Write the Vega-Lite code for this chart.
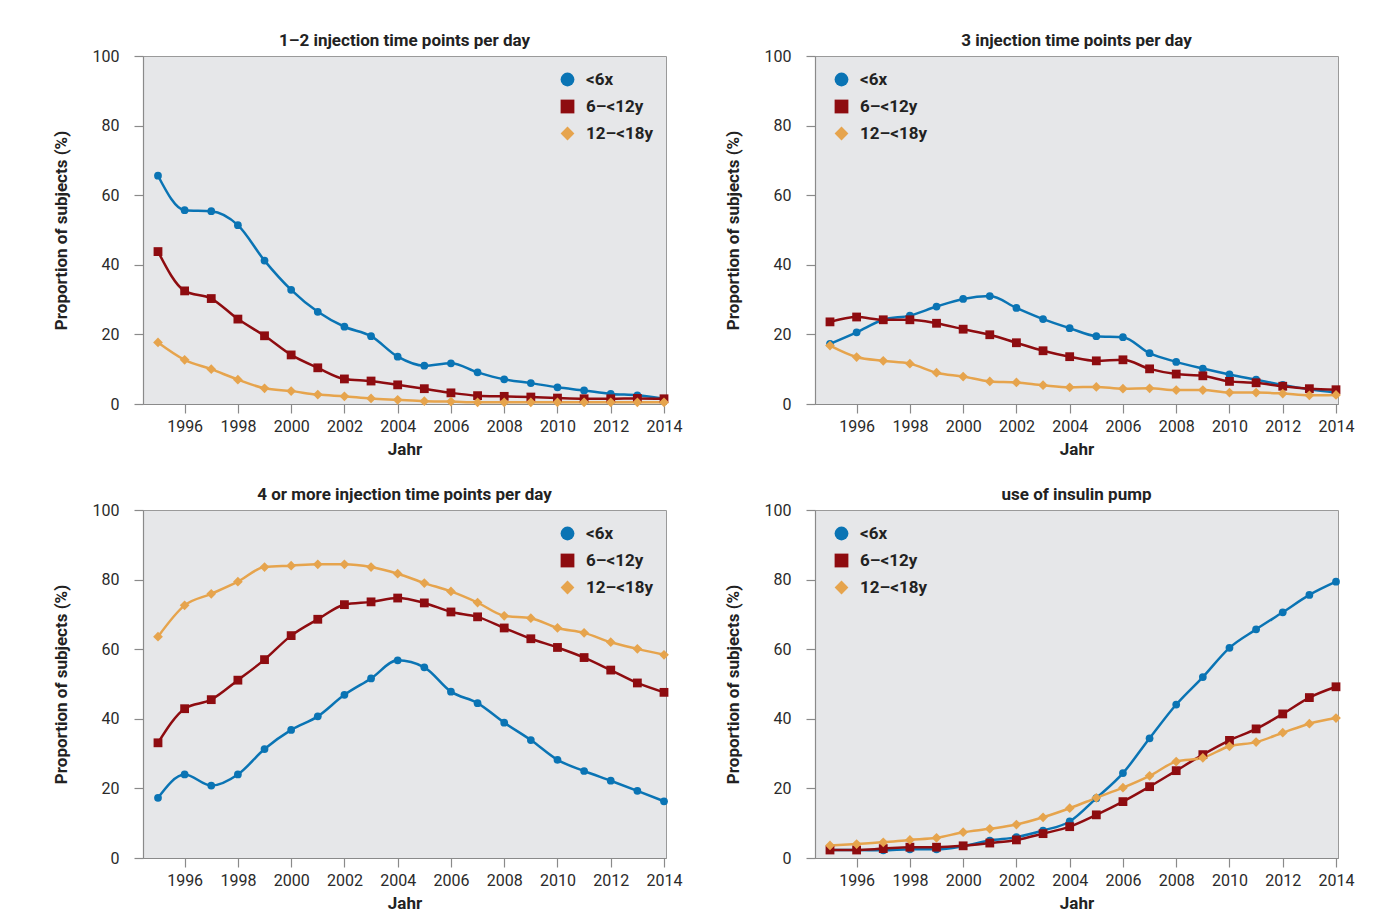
{
  "$schema": "https://vega.github.io/schema/vega-lite/v6.json",
  "background": "white",
  "padding": {"left": 51, "top": 31, "right": 10, "bottom": 5},
  "datasets": {
    "d": [
      {"p":"a","g":"<6x","y":1995,"v":65.6},{"p":"a","g":"<6x","y":1996,"v":55.7},{"p":"a","g":"<6x","y":1997,"v":55.4},{"p":"a","g":"<6x","y":1998,"v":51.4},{"p":"a","g":"<6x","y":1999,"v":41.2},{"p":"a","g":"<6x","y":2000,"v":32.8},{"p":"a","g":"<6x","y":2001,"v":26.5},{"p":"a","g":"<6x","y":2002,"v":22.2},{"p":"a","g":"<6x","y":2003,"v":19.5},{"p":"a","g":"<6x","y":2004,"v":13.6},{"p":"a","g":"<6x","y":2005,"v":11.0},{"p":"a","g":"<6x","y":2006,"v":11.7},{"p":"a","g":"<6x","y":2007,"v":9.1},{"p":"a","g":"<6x","y":2008,"v":7.1},{"p":"a","g":"<6x","y":2009,"v":6.0},{"p":"a","g":"<6x","y":2010,"v":4.8},{"p":"a","g":"<6x","y":2011,"v":3.9},{"p":"a","g":"<6x","y":2012,"v":2.9},{"p":"a","g":"<6x","y":2013,"v":2.5},{"p":"a","g":"<6x","y":2014,"v":1.5},
      {"p":"a","g":"6–<12y","y":1995,"v":43.8},{"p":"a","g":"6–<12y","y":1996,"v":32.5},{"p":"a","g":"6–<12y","y":1997,"v":30.3},{"p":"a","g":"6–<12y","y":1998,"v":24.4},{"p":"a","g":"6–<12y","y":1999,"v":19.6},{"p":"a","g":"6–<12y","y":2000,"v":14.1},{"p":"a","g":"6–<12y","y":2001,"v":10.4},{"p":"a","g":"6–<12y","y":2002,"v":7.2},{"p":"a","g":"6–<12y","y":2003,"v":6.6},{"p":"a","g":"6–<12y","y":2004,"v":5.5},{"p":"a","g":"6–<12y","y":2005,"v":4.4},{"p":"a","g":"6–<12y","y":2006,"v":3.2},{"p":"a","g":"6–<12y","y":2007,"v":2.4},{"p":"a","g":"6–<12y","y":2008,"v":2.2},{"p":"a","g":"6–<12y","y":2009,"v":2.0},{"p":"a","g":"6–<12y","y":2010,"v":1.7},{"p":"a","g":"6–<12y","y":2011,"v":1.5},{"p":"a","g":"6–<12y","y":2012,"v":1.5},{"p":"a","g":"6–<12y","y":2013,"v":1.6},{"p":"a","g":"6–<12y","y":2014,"v":1.5},
      {"p":"a","g":"12–<18y","y":1995,"v":17.7},{"p":"a","g":"12–<18y","y":1996,"v":12.7},{"p":"a","g":"12–<18y","y":1997,"v":10.0},{"p":"a","g":"12–<18y","y":1998,"v":7.0},{"p":"a","g":"12–<18y","y":1999,"v":4.5},{"p":"a","g":"12–<18y","y":2000,"v":3.7},{"p":"a","g":"12–<18y","y":2001,"v":2.7},{"p":"a","g":"12–<18y","y":2002,"v":2.2},{"p":"a","g":"12–<18y","y":2003,"v":1.6},{"p":"a","g":"12–<18y","y":2004,"v":1.2},{"p":"a","g":"12–<18y","y":2005,"v":0.8},{"p":"a","g":"12–<18y","y":2006,"v":0.7},{"p":"a","g":"12–<18y","y":2007,"v":0.5},{"p":"a","g":"12–<18y","y":2008,"v":0.5},{"p":"a","g":"12–<18y","y":2009,"v":0.5},{"p":"a","g":"12–<18y","y":2010,"v":0.5},{"p":"a","g":"12–<18y","y":2011,"v":0.5},{"p":"a","g":"12–<18y","y":2012,"v":0.5},{"p":"a","g":"12–<18y","y":2013,"v":0.5},{"p":"a","g":"12–<18y","y":2014,"v":0.5},
      {"p":"b","g":"<6x","y":1995,"v":17.3},{"p":"b","g":"<6x","y":1996,"v":20.6},{"p":"b","g":"<6x","y":1997,"v":24.2},{"p":"b","g":"<6x","y":1998,"v":25.4},{"p":"b","g":"<6x","y":1999,"v":28.0},{"p":"b","g":"<6x","y":2000,"v":30.2},{"p":"b","g":"<6x","y":2001,"v":31.0},{"p":"b","g":"<6x","y":2002,"v":27.6},{"p":"b","g":"<6x","y":2003,"v":24.4},{"p":"b","g":"<6x","y":2004,"v":21.8},{"p":"b","g":"<6x","y":2005,"v":19.5},{"p":"b","g":"<6x","y":2006,"v":19.2},{"p":"b","g":"<6x","y":2007,"v":14.6},{"p":"b","g":"<6x","y":2008,"v":12.1},{"p":"b","g":"<6x","y":2009,"v":10.2},{"p":"b","g":"<6x","y":2010,"v":8.5},{"p":"b","g":"<6x","y":2011,"v":7.0},{"p":"b","g":"<6x","y":2012,"v":5.5},{"p":"b","g":"<6x","y":2013,"v":4.2},{"p":"b","g":"<6x","y":2014,"v":3.3},
      {"p":"b","g":"6–<12y","y":1995,"v":23.6},{"p":"b","g":"6–<12y","y":1996,"v":25.0},{"p":"b","g":"6–<12y","y":1997,"v":24.2},{"p":"b","g":"6–<12y","y":1998,"v":24.2},{"p":"b","g":"6–<12y","y":1999,"v":23.2},{"p":"b","g":"6–<12y","y":2000,"v":21.5},{"p":"b","g":"6–<12y","y":2001,"v":19.9},{"p":"b","g":"6–<12y","y":2002,"v":17.6},{"p":"b","g":"6–<12y","y":2003,"v":15.3},{"p":"b","g":"6–<12y","y":2004,"v":13.6},{"p":"b","g":"6–<12y","y":2005,"v":12.4},{"p":"b","g":"6–<12y","y":2006,"v":12.7},{"p":"b","g":"6–<12y","y":2007,"v":10.1},{"p":"b","g":"6–<12y","y":2008,"v":8.6},{"p":"b","g":"6–<12y","y":2009,"v":8.1},{"p":"b","g":"6–<12y","y":2010,"v":6.5},{"p":"b","g":"6–<12y","y":2011,"v":6.1},{"p":"b","g":"6–<12y","y":2012,"v":5.1},{"p":"b","g":"6–<12y","y":2013,"v":4.4},{"p":"b","g":"6–<12y","y":2014,"v":4.1},
      {"p":"b","g":"12–<18y","y":1995,"v":16.8},{"p":"b","g":"12–<18y","y":1996,"v":13.5},{"p":"b","g":"12–<18y","y":1997,"v":12.4},{"p":"b","g":"12–<18y","y":1998,"v":11.6},{"p":"b","g":"12–<18y","y":1999,"v":9.0},{"p":"b","g":"12–<18y","y":2000,"v":7.9},{"p":"b","g":"12–<18y","y":2001,"v":6.5},{"p":"b","g":"12–<18y","y":2002,"v":6.2},{"p":"b","g":"12–<18y","y":2003,"v":5.4},{"p":"b","g":"12–<18y","y":2004,"v":4.8},{"p":"b","g":"12–<18y","y":2005,"v":4.9},{"p":"b","g":"12–<18y","y":2006,"v":4.4},{"p":"b","g":"12–<18y","y":2007,"v":4.5},{"p":"b","g":"12–<18y","y":2008,"v":4.0},{"p":"b","g":"12–<18y","y":2009,"v":4.0},{"p":"b","g":"12–<18y","y":2010,"v":3.3},{"p":"b","g":"12–<18y","y":2011,"v":3.3},{"p":"b","g":"12–<18y","y":2012,"v":3.0},{"p":"b","g":"12–<18y","y":2013,"v":2.5},{"p":"b","g":"12–<18y","y":2014,"v":2.6},
      {"p":"c","g":"<6x","y":1995,"v":17.3},{"p":"c","g":"<6x","y":1996,"v":24.0},{"p":"c","g":"<6x","y":1997,"v":20.8},{"p":"c","g":"<6x","y":1998,"v":24.0},{"p":"c","g":"<6x","y":1999,"v":31.3},{"p":"c","g":"<6x","y":2000,"v":36.8},{"p":"c","g":"<6x","y":2001,"v":40.7},{"p":"c","g":"<6x","y":2002,"v":46.9},{"p":"c","g":"<6x","y":2003,"v":51.6},{"p":"c","g":"<6x","y":2004,"v":56.8},{"p":"c","g":"<6x","y":2005,"v":54.8},{"p":"c","g":"<6x","y":2006,"v":47.8},{"p":"c","g":"<6x","y":2007,"v":44.5},{"p":"c","g":"<6x","y":2008,"v":38.9},{"p":"c","g":"<6x","y":2009,"v":33.9},{"p":"c","g":"<6x","y":2010,"v":28.2},{"p":"c","g":"<6x","y":2011,"v":25.0},{"p":"c","g":"<6x","y":2012,"v":22.2},{"p":"c","g":"<6x","y":2013,"v":19.3},{"p":"c","g":"<6x","y":2014,"v":16.3},
      {"p":"c","g":"6–<12y","y":1995,"v":33.1},{"p":"c","g":"6–<12y","y":1996,"v":42.9},{"p":"c","g":"6–<12y","y":1997,"v":45.5},{"p":"c","g":"6–<12y","y":1998,"v":51.1},{"p":"c","g":"6–<12y","y":1999,"v":57.0},{"p":"c","g":"6–<12y","y":2000,"v":63.9},{"p":"c","g":"6–<12y","y":2001,"v":68.6},{"p":"c","g":"6–<12y","y":2002,"v":72.8},{"p":"c","g":"6–<12y","y":2003,"v":73.6},{"p":"c","g":"6–<12y","y":2004,"v":74.7},{"p":"c","g":"6–<12y","y":2005,"v":73.3},{"p":"c","g":"6–<12y","y":2006,"v":70.7},{"p":"c","g":"6–<12y","y":2007,"v":69.3},{"p":"c","g":"6–<12y","y":2008,"v":66.1},{"p":"c","g":"6–<12y","y":2009,"v":63.0},{"p":"c","g":"6–<12y","y":2010,"v":60.5},{"p":"c","g":"6–<12y","y":2011,"v":57.6},{"p":"c","g":"6–<12y","y":2012,"v":54.0},{"p":"c","g":"6–<12y","y":2013,"v":50.3},{"p":"c","g":"6–<12y","y":2014,"v":47.6},
      {"p":"c","g":"12–<18y","y":1995,"v":63.6},{"p":"c","g":"12–<18y","y":1996,"v":72.6},{"p":"c","g":"12–<18y","y":1997,"v":75.9},{"p":"c","g":"12–<18y","y":1998,"v":79.4},{"p":"c","g":"12–<18y","y":1999,"v":83.6},{"p":"c","g":"12–<18y","y":2000,"v":84.0},{"p":"c","g":"12–<18y","y":2001,"v":84.4},{"p":"c","g":"12–<18y","y":2002,"v":84.4},{"p":"c","g":"12–<18y","y":2003,"v":83.6},{"p":"c","g":"12–<18y","y":2004,"v":81.7},{"p":"c","g":"12–<18y","y":2005,"v":79.0},{"p":"c","g":"12–<18y","y":2006,"v":76.6},{"p":"c","g":"12–<18y","y":2007,"v":73.4},{"p":"c","g":"12–<18y","y":2008,"v":69.6},{"p":"c","g":"12–<18y","y":2009,"v":68.9},{"p":"c","g":"12–<18y","y":2010,"v":66.1},{"p":"c","g":"12–<18y","y":2011,"v":64.7},{"p":"c","g":"12–<18y","y":2012,"v":62.0},{"p":"c","g":"12–<18y","y":2013,"v":60.1},{"p":"c","g":"12–<18y","y":2014,"v":58.4},
      {"p":"d","g":"<6x","y":1995,"v":2.3},{"p":"d","g":"<6x","y":1996,"v":2.3},{"p":"d","g":"<6x","y":1997,"v":2.2},{"p":"d","g":"<6x","y":1998,"v":2.5},{"p":"d","g":"<6x","y":1999,"v":2.5},{"p":"d","g":"<6x","y":2000,"v":3.4},{"p":"d","g":"<6x","y":2001,"v":5.0},{"p":"d","g":"<6x","y":2002,"v":6.0},{"p":"d","g":"<6x","y":2003,"v":7.9},{"p":"d","g":"<6x","y":2004,"v":10.5},{"p":"d","g":"<6x","y":2005,"v":17.2},{"p":"d","g":"<6x","y":2006,"v":24.4},{"p":"d","g":"<6x","y":2007,"v":34.4},{"p":"d","g":"<6x","y":2008,"v":44.1},{"p":"d","g":"<6x","y":2009,"v":52.0},{"p":"d","g":"<6x","y":2010,"v":60.4},{"p":"d","g":"<6x","y":2011,"v":65.7},{"p":"d","g":"<6x","y":2012,"v":70.6},{"p":"d","g":"<6x","y":2013,"v":75.6},{"p":"d","g":"<6x","y":2014,"v":79.4},
      {"p":"d","g":"6–<12y","y":1995,"v":2.3},{"p":"d","g":"6–<12y","y":1996,"v":2.3},{"p":"d","g":"6–<12y","y":1997,"v":2.7},{"p":"d","g":"6–<12y","y":1998,"v":3.1},{"p":"d","g":"6–<12y","y":1999,"v":3.1},{"p":"d","g":"6–<12y","y":2000,"v":3.5},{"p":"d","g":"6–<12y","y":2001,"v":4.3},{"p":"d","g":"6–<12y","y":2002,"v":5.2},{"p":"d","g":"6–<12y","y":2003,"v":7.0},{"p":"d","g":"6–<12y","y":2004,"v":9.0},{"p":"d","g":"6–<12y","y":2005,"v":12.4},{"p":"d","g":"6–<12y","y":2006,"v":16.2},{"p":"d","g":"6–<12y","y":2007,"v":20.5},{"p":"d","g":"6–<12y","y":2008,"v":25.1},{"p":"d","g":"6–<12y","y":2009,"v":29.7},{"p":"d","g":"6–<12y","y":2010,"v":33.8},{"p":"d","g":"6–<12y","y":2011,"v":37.1},{"p":"d","g":"6–<12y","y":2012,"v":41.4},{"p":"d","g":"6–<12y","y":2013,"v":46.1},{"p":"d","g":"6–<12y","y":2014,"v":49.2},
      {"p":"d","g":"12–<18y","y":1995,"v":3.6},{"p":"d","g":"12–<18y","y":1996,"v":4.0},{"p":"d","g":"12–<18y","y":1997,"v":4.5},{"p":"d","g":"12–<18y","y":1998,"v":5.2},{"p":"d","g":"12–<18y","y":1999,"v":5.8},{"p":"d","g":"12–<18y","y":2000,"v":7.4},{"p":"d","g":"12–<18y","y":2001,"v":8.4},{"p":"d","g":"12–<18y","y":2002,"v":9.6},{"p":"d","g":"12–<18y","y":2003,"v":11.7},{"p":"d","g":"12–<18y","y":2004,"v":14.3},{"p":"d","g":"12–<18y","y":2005,"v":17.3},{"p":"d","g":"12–<18y","y":2006,"v":20.2},{"p":"d","g":"12–<18y","y":2007,"v":23.6},{"p":"d","g":"12–<18y","y":2008,"v":27.7},{"p":"d","g":"12–<18y","y":2009,"v":28.8},{"p":"d","g":"12–<18y","y":2010,"v":32.1},{"p":"d","g":"12–<18y","y":2011,"v":33.3},{"p":"d","g":"12–<18y","y":2012,"v":36.0},{"p":"d","g":"12–<18y","y":2013,"v":38.6},{"p":"d","g":"12–<18y","y":2014,"v":40.2}
    ]
  },
  "data": {"name": "d"},
  "columns": 2,
  "spacing": {"row": 106, "column": 149},
  "bounds": "flush",
  "resolve": {"legend": {"color": "independent", "shape": "independent"}},
  "concat": [
    {
      "title": "1–2 injection time points per day",
      "width": 523, "height": 348,
      "transform": [{"filter": "datum.p === 'a'"}],
      "encoding": {
        "x": {"field": "y", "type": "quantitative", "title": "Jahr", "scale": {"domain": [1994.437, 2014.075], "nice": false, "zero": false}, "axis": {"values": [1996,1998,2000,2002,2004,2006,2008,2010,2012,2014], "format": "d"}},
        "y": {"field": "v", "type": "quantitative", "title": "Proportion of subjects (%)", "scale": {"domain": [0, 100], "nice": false}, "axis": {"values": [0,20,40,60,80,100]}},
        "color": {"field": "g", "type": "nominal", "title": null, "scale": {"domain": ["<6x","6–<12y","12–<18y"], "range": ["#0a74b4","#8e0c10","#e6a44d"]}, "legend": {"orient": "none", "legendX": 416, "legendY": 15}}
      },
      "layer": [
        {"mark": {"type": "line", "interpolate": "monotone", "strokeWidth": 2.5}},
        {"mark": {"type": "point", "filled": true, "opacity": 1},
         "encoding": {
           "shape": {"field": "g", "type": "nominal", "title": null, "scale": {"domain": ["<6x","6–<12y","12–<18y"], "range": ["circle","square","diamond"]}, "legend": {"orient": "none", "legendX": 416, "legendY": 15}},
           "size": {"field": "g", "type": "nominal", "scale": {"domain": ["<6x","6–<12y","12–<18y"], "range": [60, 95, 125]}, "legend": null}
         }}
      ]
    },
    {
      "title": "3 injection time points per day",
      "width": 523, "height": 348,
      "transform": [{"filter": "datum.p === 'b'"}],
      "encoding": {
        "x": {"field": "y", "type": "quantitative", "title": "Jahr", "scale": {"domain": [1994.437, 2014.075], "nice": false, "zero": false}, "axis": {"values": [1996,1998,2000,2002,2004,2006,2008,2010,2012,2014], "format": "d"}},
        "y": {"field": "v", "type": "quantitative", "title": "Proportion of subjects (%)", "scale": {"domain": [0, 100], "nice": false}, "axis": {"values": [0,20,40,60,80,100]}},
        "color": {"field": "g", "type": "nominal", "title": null, "scale": {"domain": ["<6x","6–<12y","12–<18y"], "range": ["#0a74b4","#8e0c10","#e6a44d"]}, "legend": {"orient": "none", "legendX": 18, "legendY": 15}}
      },
      "layer": [
        {"mark": {"type": "line", "interpolate": "monotone", "strokeWidth": 2.5}},
        {"mark": {"type": "point", "filled": true, "opacity": 1},
         "encoding": {
           "shape": {"field": "g", "type": "nominal", "title": null, "scale": {"domain": ["<6x","6–<12y","12–<18y"], "range": ["circle","square","diamond"]}, "legend": {"orient": "none", "legendX": 18, "legendY": 15}},
           "size": {"field": "g", "type": "nominal", "scale": {"domain": ["<6x","6–<12y","12–<18y"], "range": [60, 95, 125]}, "legend": null}
         }}
      ]
    },
    {
      "title": "4 or more injection time points per day",
      "width": 523, "height": 348,
      "transform": [{"filter": "datum.p === 'c'"}],
      "encoding": {
        "x": {"field": "y", "type": "quantitative", "title": "Jahr", "scale": {"domain": [1994.437, 2014.075], "nice": false, "zero": false}, "axis": {"values": [1996,1998,2000,2002,2004,2006,2008,2010,2012,2014], "format": "d"}},
        "y": {"field": "v", "type": "quantitative", "title": "Proportion of subjects (%)", "scale": {"domain": [0, 100], "nice": false}, "axis": {"values": [0,20,40,60,80,100]}},
        "color": {"field": "g", "type": "nominal", "title": null, "scale": {"domain": ["<6x","6–<12y","12–<18y"], "range": ["#0a74b4","#8e0c10","#e6a44d"]}, "legend": {"orient": "none", "legendX": 416, "legendY": 15}}
      },
      "layer": [
        {"mark": {"type": "line", "interpolate": "monotone", "strokeWidth": 2.5}},
        {"mark": {"type": "point", "filled": true, "opacity": 1},
         "encoding": {
           "shape": {"field": "g", "type": "nominal", "title": null, "scale": {"domain": ["<6x","6–<12y","12–<18y"], "range": ["circle","square","diamond"]}, "legend": {"orient": "none", "legendX": 416, "legendY": 15}},
           "size": {"field": "g", "type": "nominal", "scale": {"domain": ["<6x","6–<12y","12–<18y"], "range": [60, 95, 125]}, "legend": null}
         }}
      ]
    },
    {
      "title": "use of insulin pump",
      "width": 523, "height": 348,
      "transform": [{"filter": "datum.p === 'd'"}],
      "encoding": {
        "x": {"field": "y", "type": "quantitative", "title": "Jahr", "scale": {"domain": [1994.437, 2014.075], "nice": false, "zero": false}, "axis": {"values": [1996,1998,2000,2002,2004,2006,2008,2010,2012,2014], "format": "d"}},
        "y": {"field": "v", "type": "quantitative", "title": "Proportion of subjects (%)", "scale": {"domain": [0, 100], "nice": false}, "axis": {"values": [0,20,40,60,80,100]}},
        "color": {"field": "g", "type": "nominal", "title": null, "scale": {"domain": ["<6x","6–<12y","12–<18y"], "range": ["#0a74b4","#8e0c10","#e6a44d"]}, "legend": {"orient": "none", "legendX": 18, "legendY": 15}}
      },
      "layer": [
        {"mark": {"type": "line", "interpolate": "monotone", "strokeWidth": 2.5}},
        {"mark": {"type": "point", "filled": true, "opacity": 1},
         "encoding": {
           "shape": {"field": "g", "type": "nominal", "title": null, "scale": {"domain": ["<6x","6–<12y","12–<18y"], "range": ["circle","square","diamond"]}, "legend": {"orient": "none", "legendX": 18, "legendY": 15}},
           "size": {"field": "g", "type": "nominal", "scale": {"domain": ["<6x","6–<12y","12–<18y"], "range": [60, 95, 125]}, "legend": null}
         }}
      ]
    }
  ],
  "config": {
    "font": "Roboto",
    "view": {"fill": "#e6e7e9", "stroke": "#9a9a9a", "strokeWidth": 1},
    "title": {"font": "Roboto", "fontSize": 17, "fontWeight": "bold", "color": "#222222", "offset": -2, "anchor": "middle"},
    "axis": {"grid": false, "domainColor": "#8a8a8a", "domainWidth": 1.2, "tickColor": "#8a8a8a", "tickWidth": 1.2, "tickSize": 9, "labelFont": "Roboto", "labelFontSize": 16, "labelColor": "#2a2a2a", "titleFont": "Roboto", "titleFontSize": 17, "titleFontWeight": "bold", "titleColor": "#222222"},
    "axisX": {"labelPadding": 5, "titlePadding": 7},
    "axisY": {"labelPadding": 15, "titlePadding": 22},
    "legend": {"padding": 0, "symbolSize": 190, "symbolStrokeWidth": 0, "labelFont": "Roboto", "labelFontSize": 17, "labelFontWeight": "bold", "labelColor": "#222222", "rowPadding": 9, "labelOffset": 10, "symbolOpacity": 1}
  }
}
